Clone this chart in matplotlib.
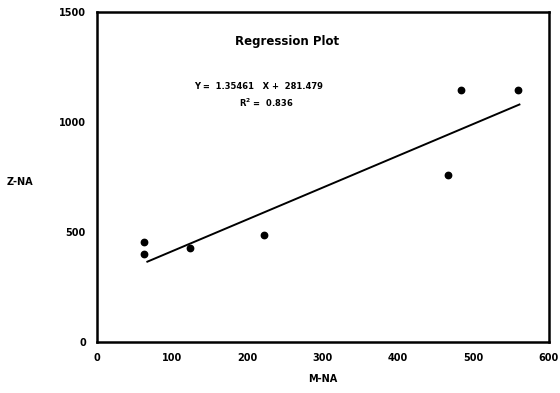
import matplotlib.pyplot as plt

# data
m_na = [62, 62, 123, 222, 466, 483, 559]
z_na = [453, 401, 426, 488, 759, 1144, 1144]
# regression line as drawn in the picture (end points)
fit_x = [67, 561]
fit_y = [365, 1080]
eq_text = 'Y =  1.35461   X +  281.479'
r2_text = 'R$^2$ =  0.836'

plt.rcParams['font.family'] = 'DejaVu Sans'
plt.rcParams['font.weight'] = 'bold'

fig = plt.figure(figsize=(5.6, 3.93), dpi=100)
ax = fig.add_axes([0.173, 0.130, 0.807, 0.839])

ax.plot(m_na, z_na, 'o', color='black', markersize=4.6)
ax.plot(fit_x, fit_y, color='black', lw=1.4)

ax.set_xlim(0, 600)
ax.set_ylim(0, 1500)
ax.set_xticks([0, 100, 200, 300, 400, 500, 600])
ax.set_yticks([0, 500, 1000, 1500])
ax.tick_params(length=0, labelsize=7, pad=8)
for s in ax.spines.values():
    s.set_linewidth(1.8)

ax.text(252, 1368, 'Regression Plot', ha='center', va='center', fontsize=8.5, fontweight='bold')
ax.text(215, 1163, eq_text, ha='center', va='center', fontsize=6)
ax.text(225, 1086, r2_text, ha='center', va='center', fontsize=6)

ax.set_xlabel('M-NA', fontsize=7, fontweight='bold', labelpad=8)
fig.text(0.036, 0.537, 'Z-NA', ha='center', va='center', fontsize=7, fontweight='bold')

fig.savefig('out.png', dpi=100)
